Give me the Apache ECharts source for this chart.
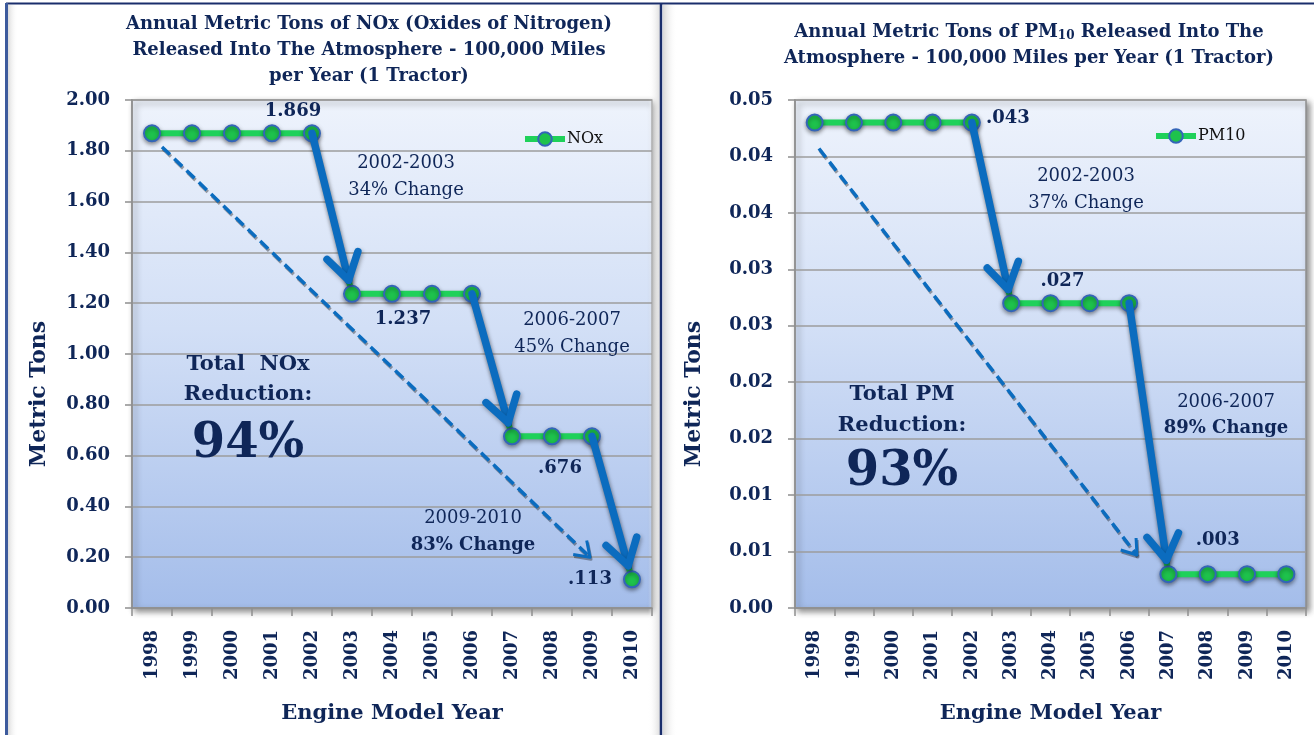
<!DOCTYPE html>
<html>
<head>
<meta charset="utf-8">
<script src="https://cdn.jsdelivr.net/npm/echarts@6.0.0/dist/echarts.min.js"></script>
<style>
html,body{margin:0;padding:0;background:#fff;}
#chart{width:1314px;height:735px;}
</style>
</head>
<body>
<div id="chart"></div>
<script>
// ---------------- DATA ----------------
const years = ['1998','1999','2000','2001','2002','2003','2004','2005','2006','2007','2008','2009','2010'];
const noxValues = [1.869,1.869,1.869,1.869,1.869,1.237,1.237,1.237,1.237,0.676,0.676,0.676,0.113];
const pmValues  = [0.043,0.043,0.043,0.043,0.043,0.027,0.027,0.027,0.027,0.003,0.003,0.003,0.003];
const noxTickLabels = ['0.00','0.20','0.40','0.60','0.80','1.00','1.20','1.40','1.60','1.80','2.00'];
const pmTickLabels  = ['0.00','0.01','0.01','0.02','0.02','0.03','0.03','0.04','0.04','0.05'];
const noxSeriesName = 'NOx';
const pmSeriesName = 'PM10';

// ---------------- STYLE / LAYOUT ----------------
const NAVY = '#0f2658';
const FONT = "'DejaVu Serif', 'Liberation Serif', serif";
const ARROW = '#0b6cbf';
const GREEN = '#1fd15a';

// which points carry a value label, and the label offsets (px)
const noxLabelCfg = {4:[-19,-22], 6:[11,26], 10:[8,32], 12:[-42,0]};
const pmLabelCfg  = {4:[36,-4], 6:[12,-22], 10:[10,-34]};

// dashed trend arrows in (fractional category index, value)
const noxTrend = {from:[0.25,1.815], to:[10.95,0.20]};
const pmTrend  = {from:[0.11,0.0407], to:[8.2,0.0047]};

function fmtVal(v){ return String(v).replace(/^0\./,'.'); }

function seriesData(vals, cfg){
  return vals.map((v,i)=> cfg[i] ? {
    value:v,
    label:{show:true, position:'inside', offset:cfg[i], formatter:()=>fmtVal(v),
      fontFamily:FONT, fontWeight:'bold', fontSize:18, color:NAVY}
  } : v);
}

function buildArrows(vals, trend){
  const list = [];
  for(let i=0;i<vals.length-1;i++){
    if(vals[i+1]!==vals[i]) list.push({kind:'drop', from:[i, vals[i]], to:[i+1, vals[i+1]]});
  }
  list.push({kind:'trend', from:trend.from, to:trend.to});
  return list;
}
const noxArrows = buildArrows(noxValues, noxTrend);
const pmArrows  = buildArrows(pmValues, pmTrend);

function makeRender(list){
  return function(params, api){
    const a = list[params.dataIndex];
    const band = api.size([1,0])[0];
    const toPx = (fi, v) => { const i = Math.floor(fi); const p = api.coord([i, v]); return [p[0]+(fi-i)*band, p[1]]; };
    const p0 = toPx(a.from[0], a.from[1]);
    const p1 = toPx(a.to[0], a.to[1]);
    const dx = p1[0]-p0[0], dy = p1[1]-p0[1];
    const L = Math.hypot(dx,dy), ux = dx/L, uy = dy/L;
    const isDrop = a.kind==='drop';
    const shorten = isDrop ? 14 : 0;
    const tip = [p1[0]-ux*shorten, p1[1]-uy*shorten];
    const headLen = isDrop ? 30 : 17;
    const ang = isDrop ? 32*Math.PI/180 : 35*Math.PI/180;
    const rot = (x,y,t)=>[x*Math.cos(t)-y*Math.sin(t), x*Math.sin(t)+y*Math.cos(t)];
    const w1 = rot(-ux,-uy,ang), w2 = rot(-ux,-uy,-ang);
    const pts = [[tip[0]+w1[0]*headLen, tip[1]+w1[1]*headLen], tip, [tip[0]+w2[0]*headLen, tip[1]+w2[1]*headLen]];
    const lw = isDrop ? 7.5 : 3.5;
    const base = {stroke:ARROW, lineWidth:lw, lineCap: isDrop?'round':'butt', lineJoin:'round', fill:'none',
      shadowBlur: isDrop?4:0, shadowColor:'rgba(0,0,0,0.35)', shadowOffsetX:1, shadowOffsetY:2};
    return {type:'group', children:[
      {type:'line', shape:{x1:p0[0], y1:p0[1], x2:tip[0], y2:tip[1]},
        style:Object.assign({}, base, isDrop?{}:{lineDash:[11,6]})},
      {type:'polyline', shape:{points:pts}, style:Object.assign({}, base, isDrop?{}:{lineWidth:3})}
    ]};
  };
}

const plotBg = {type:'linear', x:0, y:0, x2:0, y2:1, colorStops:[
  {offset:0, color:'#eef3fc'}, {offset:0.45, color:'#d2dff6'}, {offset:1, color:'#a4bdea'}]};

function gridCfg(left, width){
  return {left:left, top:100, width:width, height:508, show:true, backgroundColor:plotBg,
    borderColor:'#8f8f8f', borderWidth:1.5, shadowColor:'rgba(0,0,0,0.45)', shadowBlur:6, shadowOffsetX:3, shadowOffsetY:3};
}

function xAxisCfg(gi){
  return {type:'category', gridIndex:gi, data:years, boundaryGap:true,
    name:'Engine Model Year', nameLocation:'middle', nameGap:95,
    nameTextStyle:{fontFamily:FONT, fontWeight:'bold', fontSize:21, color:NAVY},
    axisLine:{show:true, lineStyle:{color:'#8f8f8f', width:1.5}},
    axisTick:{show:true, length:8, lineStyle:{color:'#8f8f8f', width:1.5}},
    axisLabel:{rotate:90, margin:22, fontFamily:FONT, fontWeight:'bold', fontSize:18, color:NAVY, interval:0},
    splitLine:{show:false}};
}

function yAxisCfg(gi, max, interval, labels){
  return {type:'value', gridIndex:gi, min:0, max:max, interval:interval,
    axisLine:{show:true, lineStyle:{color:'#8f8f8f', width:1.5}},
    axisTick:{show:true, length:7, lineStyle:{color:'#8f8f8f', width:1.5}},
    axisLabel:{margin:22, fontFamily:FONT, fontWeight:'bold', fontSize:18, color:NAVY,
      formatter:(v)=> labels[Math.round(v/interval)]},
    splitLine:{show:true, lineStyle:{color:'#9c9c9c', width:1.5}}};
}

function lineSeries(name, vals, cfg, gi){
  return {type:'line', name:name, xAxisIndex:gi, yAxisIndex:gi, data:seriesData(vals,cfg),
    symbol:'circle', symbolSize:16, z:3,
    lineStyle:{color:GREEN, width:6, shadowColor:'rgba(0,0,0,0.35)', shadowBlur:4, shadowOffsetY:2},
    itemStyle:{color:'#1ec24c', borderColor:'#3465b8', borderWidth:2, shadowColor:'rgba(0,0,0,0.4)', shadowBlur:4, shadowOffsetY:2},
    emphasis:{disabled:true}, animation:false};
}

function arrowSeries(list, gi){
  return {type:'custom', xAxisIndex:gi, yAxisIndex:gi, z:5, silent:true, animation:false,
    data:list.map((a,i)=>[i,0]), renderItem:makeRender(list), clip:false};
}

function txt(x,y,text,size,bold,rotation){
  return {type:'text', x:x, y:y, z:20, silent:true, rotation:rotation||0,
    style:{text:text, fontFamily:FONT, fontSize:size, fontWeight:bold?'bold':'normal', fill:NAVY,
      align:'center', verticalAlign:'middle'}};
}

const annotations = [
  // axis titles (vertical)
  txt(39,394,'Metric Tons',22,true,Math.PI/2), txt(694,394,'Metric Tons',22,true,Math.PI/2),
  // left chart
  txt(406,163,'2002-2003',18,false), txt(406,190,'34% Change',18,false),
  txt(572,320,'2006-2007',18,false), txt(572,347,'45% Change',18,false),
  txt(473,518,'2009-2010',18,false), txt(473,545,'83% Change',18,true),
  txt(248,365,'Total  NOx',21,true), txt(248,395,'Reduction:',21,true), txt(248,445,'94%',48,true),
  // right chart
  txt(1086,176,'2002-2003',18,false), txt(1086,203,'37% Change',18,false),
  txt(1226,402,'2006-2007',18,false), txt(1226,428,'89% Change',18,true),
  txt(902,395,'Total PM',21,true), txt(902,426,'Reduction:',21,true), txt(902,473,'93%',48,true)
];

const frame = [
  {type:'rect', z:0, silent:true, shape:{x:8,y:5,width:10,height:730},
    style:{fill:{type:'linear',x:0,y:0,x2:1,y2:0,colorStops:[{offset:0,color:'#dcdcdc'},{offset:1,color:'rgba(255,255,255,0)'}]}}},
  {type:'rect', z:0, silent:true, shape:{x:648,y:5,width:12,height:730},
    style:{fill:{type:'linear',x:0,y:0,x2:1,y2:0,colorStops:[{offset:0,color:'rgba(255,255,255,0)'},{offset:1,color:'#dedede'}]}}},
  {type:'rect', z:0, silent:true, shape:{x:663,y:5,width:14,height:730},
    style:{fill:{type:'linear',x:0,y:0,x2:1,y2:0,colorStops:[{offset:0,color:'#d8d8d8'},{offset:1,color:'rgba(255,255,255,0)'}]}}},
  {type:'line', z:1, silent:true, shape:{x1:6,y1:3.5,x2:1314,y2:3.5}, style:{stroke:'#1a2e6c', lineWidth:2}},
  {type:'line', z:1, silent:true, shape:{x1:6.5,y1:3,x2:6.5,y2:735}, style:{stroke:'#3d5b9d', lineWidth:3}},
  {type:'line', z:1, silent:true, shape:{x1:661,y1:3,x2:661,y2:735}, style:{stroke:'#1a2e6c', lineWidth:2.5}}
];

const legendCommon = {itemWidth:40, itemHeight:17, itemGap:4, selectedMode:false,
  lineStyle:{width:6, color:GREEN},
  itemStyle:{color:'#1ec24c', borderColor:'#3465b8', borderWidth:2},
  textStyle:{fontFamily:FONT, fontSize:16, color:'#111', padding:[0,0,0,-3]}};

const chart = echarts.init(document.getElementById('chart'), null, {renderer:'canvas'});
chart.setOption({
  animation:false,
  backgroundColor:'#ffffff',
  title:[
    {text:'Annual Metric Tons of NOx (Oxides of Nitrogen)\nReleased Into The Atmosphere - 100,000 Miles\nper Year (1 Tractor)',
      left:364, top:6, textAlign:'center',
      textStyle:{fontFamily:FONT, fontWeight:'bold', fontSize:18, color:NAVY, lineHeight:26, align:'center'}},
    {text:'{a|Annual Metric Tons of PM}{s|10}{a| Released Into The}\n{a|Atmosphere - 100,000 Miles per Year (1 Tractor)}',
      left:1024, top:14, textAlign:'center',
      textStyle:{fontFamily:FONT, fontWeight:'bold', fontSize:18, color:NAVY, lineHeight:26, align:'center',
        rich:{a:{fontFamily:FONT, fontWeight:'bold', fontSize:18, color:NAVY, lineHeight:26},
              s:{fontFamily:FONT, fontWeight:'bold', fontSize:12, color:NAVY, lineHeight:26, padding:[8,0,0,0]}}}}
  ],
  legend:[
    Object.assign({data:[noxSeriesName], left:517, top:126}, legendCommon),
    Object.assign({data:[pmSeriesName], left:1148, top:123}, legendCommon)
  ],
  grid:[gridCfg(132,520), gridCfg(795,511)],
  xAxis:[xAxisCfg(0), xAxisCfg(1)],
  yAxis:[yAxisCfg(0, 2.0, 0.2, noxTickLabels), yAxisCfg(1, 0.045, 0.005, pmTickLabels)],
  series:[
    lineSeries(noxSeriesName, noxValues, noxLabelCfg, 0),
    lineSeries(pmSeriesName, pmValues, pmLabelCfg, 1),
    arrowSeries(noxArrows, 0),
    arrowSeries(pmArrows, 1)
  ],
  graphic:frame.concat(annotations)
});
</script>
</body>
</html>
